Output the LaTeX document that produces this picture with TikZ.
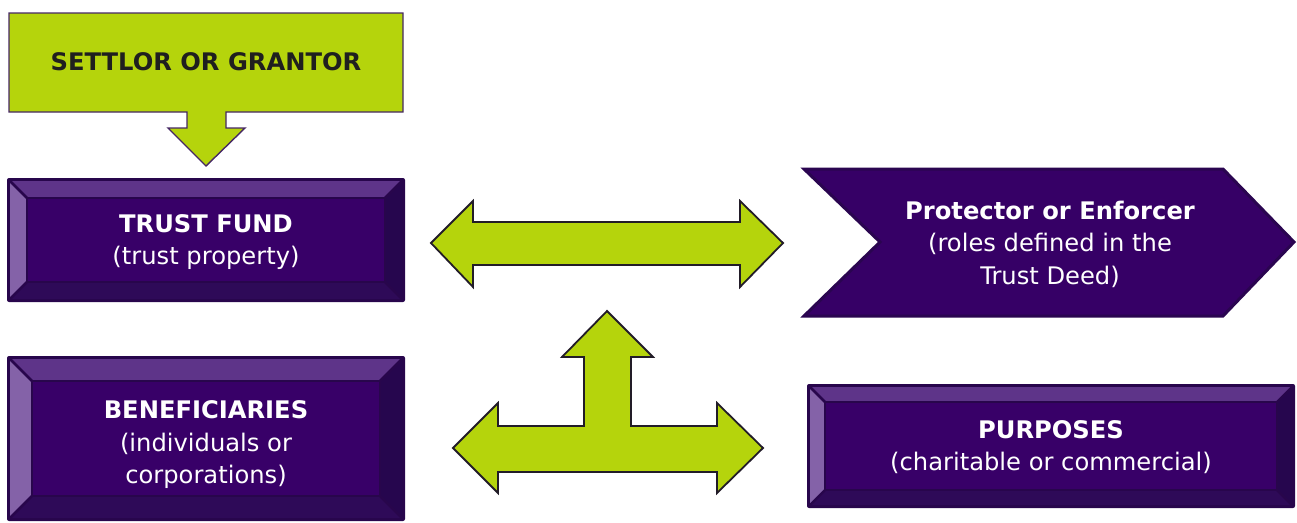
\documentclass[tikz,border=0pt]{standalone}
\usepackage{fontspec}
\setmainfont{DejaVu Sans}
\definecolor{lime}{RGB}{181,212,12}
\definecolor{limeline}{RGB}{34,28,40}
\definecolor{settline}{RGB}{70,40,100}
\definecolor{bvmid}{RGB}{56,0,104}
\definecolor{bvout}{RGB}{40,6,76}
\definecolor{bvleft}{RGB}{132,98,168}
\definecolor{bvtop}{RGB}{94,52,137}
\definecolor{bvright}{RGB}{38,6,78}
\definecolor{bvbot}{RGB}{46,10,88}
\definecolor{chevfill}{RGB}{54,0,102}
\definecolor{chevline}{RGB}{42,5,80}
\tikzset{
  txt/.style={text=white, align=center, font=\fontsize{24.2}{32.5}\selectfont, inner sep=0pt},
  dtxt/.style={text=black!88, align=center, font=\fontsize{24.2}{32.5}\selectfont\bfseries, inner sep=0pt},
  greenarrow/.style={fill=lime, draw=limeline, line width=1.8pt, line join=miter},
  bevstroke/.style={draw=bvout, line width=2.5pt, line join=miter},
}
\newcommand\bevbox[5]{%
  \fill[bvout, rounded corners=2pt] (#1,#2) rectangle (#3,#4);
  \fill[bvleft] ({#1+3},{#2+3}) -- ({#1+#5},{#2+#5}) -- ({#1+#5},{#4-#5}) -- ({#1+3},{#4-3}) -- cycle;
  \fill[bvtop] ({#1+3},{#2+3}) -- ({#3-3},{#2+3}) -- ({#3-#5},{#2+#5}) -- ({#1+#5},{#2+#5}) -- cycle;
  \fill[bvright] ({#3-3},{#2+3}) -- ({#3-3},{#4-3}) -- ({#3-#5},{#4-#5}) -- ({#3-#5},{#2+#5}) -- cycle;
  \fill[bvbot] ({#1+3},{#4-3}) -- ({#3-3},{#4-3}) -- ({#3-#5},{#4-#5}) -- ({#1+#5},{#4-#5}) -- cycle;
  \draw[bevstroke] ({#1+3},{#2+3}) -- ({#1+#5},{#2+#5});
  \draw[bevstroke] ({#3-3},{#2+3}) -- ({#3-#5},{#2+#5});
  \draw[bevstroke] ({#1+3},{#4-3}) -- ({#1+#5},{#4-#5});
  \draw[bevstroke] ({#3-3},{#4-3}) -- ({#3-#5},{#4-#5});
  \filldraw[fill=bvmid, bevstroke] ({#1+#5},{#2+#5}) rectangle ({#3-#5},{#4-#5});
}
\begin{document}
\begin{tikzpicture}[x=1pt,y=-1pt]
\useasboundingbox (0,0) rectangle (1297,522);
% settlor callout
\filldraw[fill=lime, draw=settline, line width=1.4pt]
  (9,13) -- (403,13) -- (403,112) -- (226,112) -- (226,128) -- (245,128)
  -- (206,166) -- (168,128) -- (187,128) -- (187,112) -- (9,112) -- cycle;
\node[dtxt] (settlor) at (206,62) {SETTLOR OR GRANTOR};
% trust fund
\bevbox{7}{178}{405}{302}{20}
\node[txt] (trust) at (206,242) {\textbf{TRUST FUND}\\(trust property)};
% beneficiaries
\bevbox{7}{356}{405}{521}{25}
\node[txt] (benef) at (206,445) {\textbf{BENEFICIARIES}\\(individuals or\\corporations)};
% purposes
\bevbox{807}{384}{1295}{508}{18}
\node[txt] (purp) at (1051,447) {\textbf{PURPOSES}\\(charitable or commercial)};
% protector chevron
\filldraw[fill=chevfill, draw=chevline, line width=3pt, line join=miter]
  (804,169) -- (1223,169) -- (1294,242) -- (1223,316) -- (804,316) -- (880,242) -- cycle;
\node[txt] (prot) at (1050,244) {\textbf{Protector or Enforcer}\\(roles defined in the\\Trust Deed)};
% double arrow
\filldraw[greenarrow]
  (431,243) -- (473,201) -- (473,222) -- (740,222) -- (740,201) -- (783,243)
  -- (740,287) -- (740,265) -- (473,265) -- (473,287) -- cycle;
% T arrow
\filldraw[greenarrow]
  (453,448) -- (498,403) -- (498,426) -- (584,426) -- (584,357) -- (562,357)
  -- (607,311) -- (653,357) -- (631,357) -- (631,426) -- (717,426) -- (717,403)
  -- (763,448) -- (717,493) -- (717,472) -- (498,472) -- (498,493) -- cycle;
\end{tikzpicture}
\end{document}
